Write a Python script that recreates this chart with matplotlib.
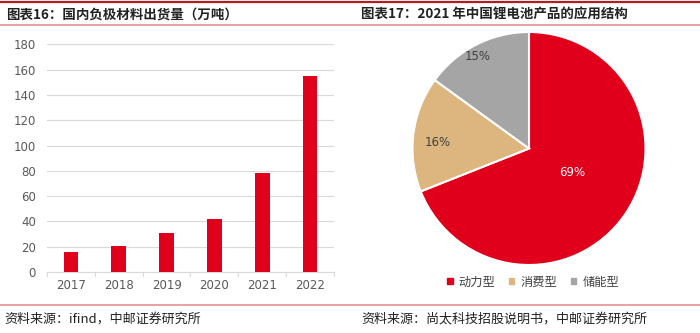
import matplotlib
matplotlib.use("Agg")
import matplotlib.pyplot as plt
from matplotlib.lines import Line2D
from matplotlib.patches import Rectangle

plt.rcParams['font.family'] = ['Noto Sans CJK SC', 'DejaVu Sans']

# Data
years = ['2017', '2018', '2019', '2020', '2021', '2022']
shipments = [16, 20.5, 31, 42, 78, 155]
yticks = [0, 20, 40, 60, 80, 100, 120, 140, 160, 180]

pie_labels = ['动力型', '消费型', '储能型']
pie_values = [69, 16, 15]
pie_colors = ['#E0001B', '#DDB67F', '#A5A5A5']

title_left = '图表16：国内负极材料出货量（万吨）'
title_right = '图表17：2021 年中国锂电池产品的应用结构'
source_left = '资料来源：ifind，中邮证券研究所'
source_right = '资料来源：尚太科技招股说明书，中邮证券研究所'

W, H = 700, 333
fig = plt.figure(figsize=(7, 3.33), dpi=100)

def fx(x):
    return x / W

def fy(y):
    return 1 - y / H

# Decorative lines
for y, c, lw in [(2, '#B01E24', 1.6), (25, '#E8A0A8', 1.4), (305, '#E8A0A8', 1.4)]:
    fig.add_artist(Line2D([0, 1], [fy(y), fy(y)], color=c, lw=lw, transform=fig.transFigure))

fig.text(fx(6), fy(15), title_left, fontsize=9.7, fontweight='bold', color='#222222', va='center', ha='left')
fig.text(fx(361), fy(15), title_right, fontsize=9.7, fontweight='bold', color='#222222', va='center', ha='left')
fig.text(fx(4), fy(319), source_left, fontsize=9.4, color='#222222', va='center', ha='left')
fig.text(fx(361), fy(319), source_right, fontsize=9.4, color='#222222', va='center', ha='left')

# Bar chart
ax = fig.add_axes([fx(47), fy(272), fx(334 - 47), (272 - 44.3) / H])
x = range(len(years))
ax.bar(x, shipments, width=0.31, color='#E0001B', zorder=3)
ax.set_ylim(0, 180)
ax.set_xlim(-0.5, len(years) - 0.5)
ax.set_yticks(yticks)
ax.set_xticks(list(x))
ax.set_xticklabels(years)
ax.yaxis.grid(True, color='#D9D9D9', lw=0.8, zorder=0)
for s in ['top', 'right', 'left']:
    ax.spines[s].set_visible(False)
ax.spines['bottom'].set_color('#D9D9D9')
ax.tick_params(axis='y', length=0, labelsize=8.5, labelcolor='#595959', pad=8)
ax.tick_params(axis='x', length=0, labelsize=8.5, labelcolor='#595959', pad=5)
for b in [i + 0.5 for i in range(-1, len(years))]:
    ax.plot([b, b], [0, -3], color='#D9D9D9', lw=0.8, clip_on=False, transform=ax.transData)
ax.set_ylim(0, 180)
for lab in ax.get_xticklabels() + ax.get_yticklabels():
    lab.set_fontfamily(['DejaVu Sans'])

# Pie chart
r = 116.5
cx, cy = 529, 148.5
axp = fig.add_axes([fx(cx - r), fy(cy + r), 2 * r / W, 2 * r / H])
wedges, texts, autotexts = axp.pie(
    pie_values, colors=pie_colors, startangle=90, counterclock=False,
    autopct='%d%%', pctdistance=0.72,
    wedgeprops=dict(edgecolor='white', linewidth=1.5))
axp.set_aspect('auto')
axp.set_xlim(-1, 1)
axp.set_ylim(-1, 1)
for i, t in enumerate(autotexts):
    t.set_fontsize(8.5)
    t.set_color('white' if i == 0 else '#404040')
    t.set_fontfamily(['DejaVu Sans'])
autotexts[0].set_position((0.37, -0.21))
autotexts[1].set_position((-0.78, 0.05))
autotexts[2].set_position((-0.44, 0.79))

# Legend
handles = [Rectangle((0, 0), 1, 1, color=c) for c in pie_colors]
fig.legend(handles, pie_labels, loc='center', bbox_to_anchor=(fx(533), fy(282)),
           ncol=3, frameon=False, fontsize=8.8, handlelength=0.45, handleheight=0.45,
           handletextpad=0.5, columnspacing=1.1, labelcolor='#404040')

fig.savefig('out.png', dpi=100)
